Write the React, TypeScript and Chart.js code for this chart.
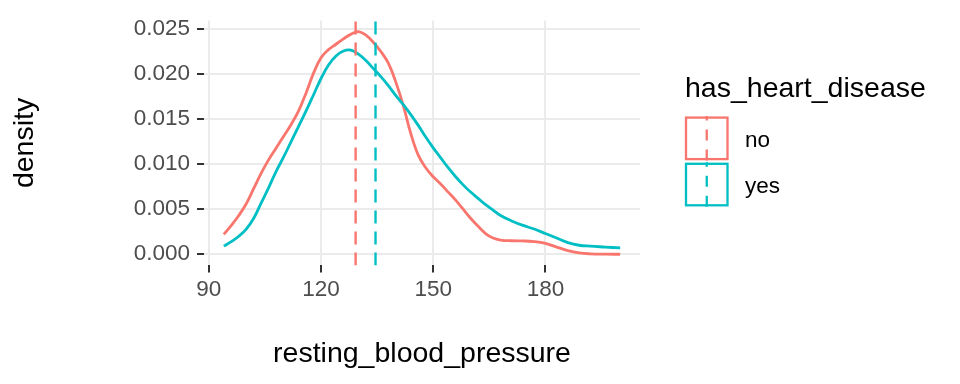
import React, { useEffect, useRef } from "react";
import { Chart, registerables } from "chart.js";

Chart.register(...registerables);

// ---- data ----
const bpGrid = [94, 96, 98, 100, 102, 104, 106, 108, 110, 112, 114, 116, 118, 120, 122, 124, 126, 128, 130, 132, 134, 136, 138, 140, 142, 144, 146, 148, 150, 152, 154, 156, 158, 160, 162, 164, 166, 168, 171, 174, 177, 180, 183, 186, 189, 192, 196, 200];
const densityNo = [0.0022, 0.0032, 0.0043, 0.0056, 0.0073, 0.009, 0.0105, 0.0118, 0.0131, 0.0144, 0.0159, 0.0179, 0.0201, 0.0218, 0.0227, 0.0233, 0.0239, 0.0244, 0.0247, 0.0243, 0.0235, 0.0225, 0.0212, 0.0191, 0.0165, 0.0134, 0.011, 0.0096, 0.0086, 0.0078, 0.0069, 0.006, 0.005, 0.004, 0.0031, 0.0023, 0.0018, 0.00158, 0.0015, 0.00148, 0.0014, 0.0012, 0.0008, 0.0004, 0.00015, 0.00005, 0.00001, 0.0];
const densityYes = [0.0009, 0.0014, 0.002, 0.0028, 0.004, 0.0057, 0.0074, 0.0092, 0.0108, 0.0125, 0.0142, 0.0159, 0.0177, 0.0195, 0.021, 0.022, 0.02255, 0.02265, 0.0222, 0.0215, 0.0206, 0.0197, 0.0187, 0.0176, 0.0166, 0.0155, 0.0143, 0.0130, 0.0118, 0.0107, 0.0096, 0.0086, 0.0077, 0.0069, 0.0062, 0.0055, 0.0049, 0.0043, 0.0037, 0.0032, 0.0028, 0.0023, 0.0018, 0.0013, 0.001, 0.0009, 0.0008, 0.0007];
const groups = ["no", "yes"];
const groupMeans = [129.25, 134.57];
const xTicks = [90, 120, 150, 180];
const yTicks = [0, 0.005, 0.01, 0.015, 0.02, 0.025];
const xLimits = [88.7, 205.3];
const yLimits = [-0.001235, 0.025935];

const COLORS = ["#F8766D", "#00BFC4"];
const FONT = '"Liberation Sans", Arial, Helvetica, sans-serif';
const PLOT_DASH = [13, 8];
const KEY_DASH = [11, 9];

const overlay = {
  id: "overlay",
  afterDraw(chart: any) {
    const ctx = chart.ctx as CanvasRenderingContext2D;
    const ca = chart.chartArea;
    ctx.save();
    ctx.fillStyle = "#000000";
    ctx.font = `28.5px ${FONT}`;
    ctx.textAlign = "center";
    ctx.textBaseline = "alphabetic";
    ctx.fillText("resting_blood_pressure", (ca.left + ca.right) / 2, 361.5);
    ctx.save();
    ctx.translate(32.5, (ca.top + ca.bottom) / 2);
    ctx.rotate(-Math.PI / 2);
    ctx.fillText("density", 0, 0);
    ctx.restore();

    // legend
    ctx.textAlign = "left";
    ctx.fillText("has_heart_disease", 685, 96.7);
    const keyX = 686;
    const keySize = 41.5;
    const keyTops = [117.6, 163.8];
    const labelBase = [147.3, 192.5];
    groups.forEach((g, i) => {
      const top = keyTops[i];
      ctx.strokeStyle = COLORS[i];
      ctx.lineWidth = 2.3;
      ctx.setLineDash([]);
      ctx.strokeRect(keyX, top, keySize, keySize);
      ctx.beginPath();
      ctx.setLineDash(KEY_DASH);
      ctx.lineWidth = 2.3;
      const cx = keyX + keySize / 2;
      ctx.moveTo(cx, top + keySize + 1.5);
      ctx.lineTo(cx, top - 1.5);
      ctx.stroke();
      ctx.setLineDash([]);
      ctx.fillStyle = "#000000";
      ctx.font = `22.5px ${FONT}`;
      ctx.fillText(g, 745, labelBase[i]);
    });
    ctx.restore();
  },
};

export default function App() {
  const ref = useRef<HTMLCanvasElement>(null);
  useEffect(() => {
    const canvas = ref.current!;
    const densities = [densityNo, densityYes];
    const densitySets = groups.map((g, i) => ({
      type: "line" as const,
      label: g,
      data: bpGrid.map((x, k) => ({ x, y: densities[i][k] })),
      borderColor: COLORS[i],
      borderWidth: 2.8,
      pointRadius: 0,
      fill: false,
      tension: 0.4,
      order: 3 - i,
    }));
    const meanSets = groups.map((g, i) => ({
      type: "line" as const,
      label: g + " mean",
      data: [
        { x: groupMeans[i], y: yLimits[0] },
        { x: groupMeans[i], y: yLimits[1] },
      ],
      borderColor: COLORS[i],
      borderWidth: 2.4,
      borderDash: PLOT_DASH,
      pointRadius: 0,
      fill: false,
      tension: 0,
      order: 1 - i,
    }));
    const chart = new Chart(canvas, {
      type: "line",
      data: { datasets: [...densitySets, ...meanSets] as any },
      options: {
        animation: false,
        responsive: false,
        devicePixelRatio: 1,
        events: [],
        layout: { padding: { left: 0, right: 320, top: 14.6, bottom: 0 } },
        plugins: { legend: { display: false }, tooltip: { enabled: false } },
        scales: {
          x: {
            type: "linear",
            min: xLimits[0],
            max: xLimits[1],
            afterBuildTicks: (s: any) => {
              s.ticks = xTicks.map((v) => ({ value: v }));
            },
            afterFit: (s: any) => {
              s.height = 118.6;
            },
            grid: {
              color: "#EBEBEB",
              lineWidth: 2,
              tickColor: "#333333",
              tickLength: 7,
              tickWidth: 2,
            },
            border: { display: false },
            ticks: {
              color: "#4D4D4D",
              font: { size: 22.5, family: FONT },
              padding: 4,
              maxRotation: 0,
              autoSkip: false,
              callback: (v: any) => String(v),
            },
          },
          y: {
            type: "linear",
            min: yLimits[0],
            max: yLimits[1],
            afterBuildTicks: (s: any) => {
              s.ticks = yTicks.map((v) => ({ value: v }));
            },
            afterFit: (s: any) => {
              s.width = 204;
            },
            grid: {
              color: "#EBEBEB",
              lineWidth: 2,
              tickColor: "#333333",
              tickLength: 7,
              tickWidth: 2,
            },
            border: { display: false },
            ticks: {
              color: "#4D4D4D",
              font: { size: 22.5, family: FONT },
              padding: 7,
              autoSkip: false,
              callback: (v: any) => Number(v).toFixed(3),
            },
          },
        },
      },
      plugins: [overlay],
    });
    return () => chart.destroy();
  }, []);
  return (
    <div style={{ position: "absolute", left: 0, top: 0, width: 960, height: 384, background: "#ffffff" }}>
      <canvas ref={ref} width={960} height={384} style={{ display: "block", width: 960, height: 384 }} />
    </div>
  );
}
